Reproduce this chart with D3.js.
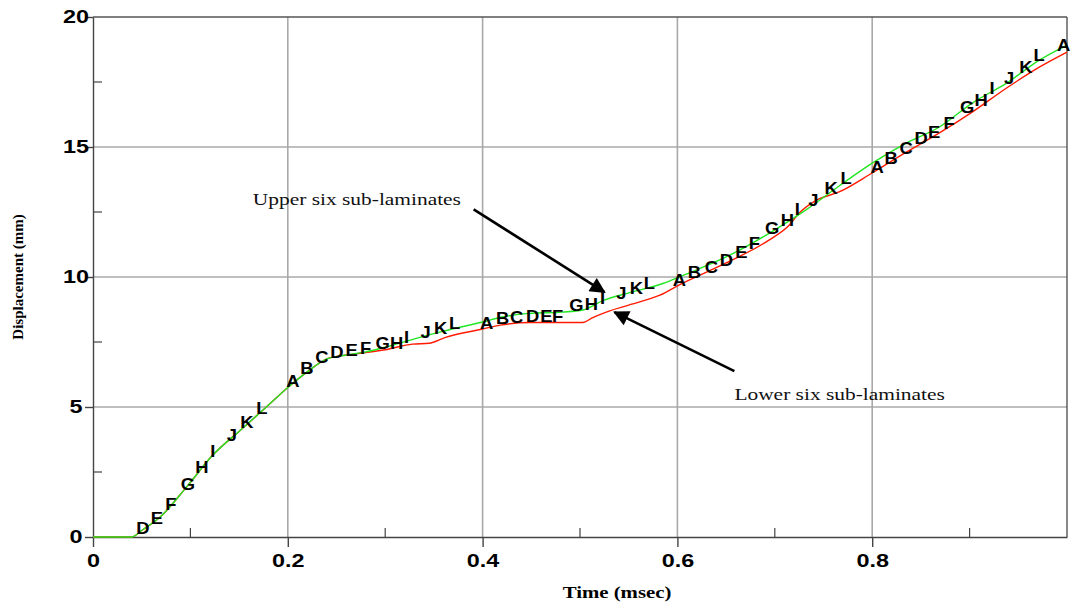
<!DOCTYPE html>
<html><head><meta charset="utf-8">
<script src="https://cdn.jsdelivr.net/npm/d3@7"></script>
<style>body{margin:0;background:#fff}svg{display:block}</style>
</head><body><svg id="c" width="1072" height="604"></svg>
<script>
// ---- data ----
const xTicks = [0, 0.2, 0.4, 0.6, 0.8];
const xMinor = [0.1, 0.3, 0.5, 0.7, 0.9];
const yTicks = [0, 5, 10, 15, 20];
const yMinor = [2.5, 7.5, 12.5, 17.5];

// upper six sub-laminates (green)
const upperT = [0,0.04,0.05,0.069,0.096,0.123,0.151,0.178,0.2,0.22,0.24,0.26,0.28,0.3,0.33,0.36,0.4,0.42,0.448,0.482,0.503,0.524,0.551,0.585,0.605,0.65,0.695,0.732,0.766,0.8,0.835,0.869,0.903,0.938,0.972,1.0];
const upperD = [0,0,0.25,0.77,1.92,3.15,4.1,5.0,5.75,6.35,6.85,7.0,7.12,7.3,7.62,7.92,8.27,8.46,8.6,8.65,8.73,9.1,9.4,9.75,10.05,10.77,11.7,12.58,13.5,14.38,15.15,15.77,16.7,17.46,18.35,18.92];

// lower six sub-laminates (red)
const lowerT = [0,0.04,0.05,0.069,0.096,0.123,0.151,0.178,0.2,0.22,0.24,0.26,0.27,0.3,0.328,0.345,0.362,0.4,0.418,0.449,0.503,0.512,0.527,0.55,0.582,0.602,0.65,0.694,0.715,0.725,0.743,0.766,0.8,0.835,0.869,0.903,0.938,0.972,1.0];
const lowerD = [0,0,0.25,0.77,1.92,3.15,4.1,5.0,5.75,6.35,6.85,7.0,7.05,7.2,7.42,7.45,7.68,8.0,8.15,8.25,8.25,8.42,8.65,8.92,9.3,9.7,10.54,11.42,12.0,12.46,12.96,13.27,14.0,14.8,15.54,16.35,17.27,18.08,18.65];

// sub-laminate letter markers
const markerLetters = ["D","E","F","G","H","I","J","K","L",
  "A","B","C","D","E","F","G","H","I","J","K","L",
  "A","B","C","D","E","F","G","H","I","J","K","L",
  "A","B","C","D","E","F","G","H","I","J","K","L",
  "A","B","C","D","E","F","G","H","I","J","K","L","A"];
const markerT = [0.0513,0.0656,0.080,0.0974,0.1118,0.1231,0.1426,0.158,0.1733,
  0.2051,0.2195,0.2349,0.2503,0.2656,0.28,0.2974,0.3118,0.322,0.3415,0.3569,0.3713,
  0.4041,0.4205,0.4349,0.4513,0.4656,0.4769,0.4964,0.5118,0.5231,0.5426,0.5579,0.5713,
  0.602,0.6174,0.6349,0.6503,0.6656,0.679,0.6974,0.7128,0.7231,0.7395,0.7579,0.7733,
  0.8051,0.8195,0.8349,0.8503,0.8636,0.879,0.8974,0.9118,0.9231,0.9405,0.9579,0.9713,0.9965];
const markerD = [0.35,0.73,1.27,2.04,2.69,3.31,3.92,4.42,4.96,
  6.0,6.5,6.92,7.12,7.19,7.27,7.46,7.46,7.69,7.88,8.04,8.23,
  8.23,8.42,8.46,8.5,8.5,8.5,8.92,8.96,9.19,9.38,9.58,9.77,
  9.88,10.19,10.38,10.65,10.96,11.31,11.88,12.19,12.62,12.96,13.42,13.81,
  14.23,14.58,14.96,15.35,15.58,15.92,16.54,16.81,17.27,17.65,18.08,18.54,18.92];

// annotations
const noteTexts = ["Upper six sub-laminates", "Lower six sub-laminates"];
const noteT = [0.1641, 0.6585];
const noteD = [12.77, 5.27];
const arrowFromT = [0.3908, 0.6585], arrowFromD = [12.6, 6.38];
const arrowToT = [0.5251, 0.5354],   arrowToD = [9.42, 8.65];

// ---- drawing ----
const svg = d3.select("#c");
const x = d3.scaleLinear().domain([0, 1]).range([93, 1067]);
const y = d3.scaleLinear().domain([0, 20]).range([537, 17]);

const SX = 1.3; // horizontal stretch of the original picture's text

// grid
svg.append("g").selectAll("line").data(xTicks.filter(d => d > 0)).join("line")
  .attr("x1", d => x(d)).attr("x2", d => x(d)).attr("y1", y(0)).attr("y2", y(20))
  .attr("stroke", "#a9a9a9").attr("stroke-width", 1.6);
svg.append("g").selectAll("line").data(yTicks.filter(d => d > 0 && d < 20)).join("line")
  .attr("x1", x(0)).attr("x2", x(1)).attr("y1", d => y(d)).attr("y2", d => y(d))
  .attr("stroke", "#a9a9a9").attr("stroke-width", 1.6);

// frame top & right
svg.append("line").attr("x1", x(0)).attr("x2", x(1)).attr("y1", y(20)).attr("y2", y(20))
  .attr("stroke", "#555").attr("stroke-width", 1.4);
svg.append("line").attr("x1", x(1)).attr("x2", x(1)).attr("y1", y(20)).attr("y2", y(0))
  .attr("stroke", "#555").attr("stroke-width", 1.4);

// axes
const xa = svg.append("g").attr("transform", `translate(0,${y(0)})`)
  .call(d3.axisBottom(x).tickValues(xTicks).tickSize(10).tickSizeOuter(0).tickPadding(7)
    .tickFormat(d => d === 0 ? "0" : d3.format(".1f")(d)));
const ya = svg.append("g").attr("transform", `translate(${x(0)},0)`)
  .call(d3.axisLeft(y).tickValues(yTicks).tickSize(8).tickSizeOuter(0).tickFormat(d3.format("d")));
[xa, ya].forEach(g => {
  g.select(".domain").attr("stroke", "#444").attr("stroke-width", 1.4);
  g.selectAll(".tick line").attr("stroke", "#444").attr("stroke-width", 1.4);
  g.selectAll(".tick text").attr("fill", "#000")
    .style("font-family", "'Liberation Sans', Arial, sans-serif")
    .style("font-weight", "bold").style("font-size", "18px");
});
xa.selectAll(".tick text").attr("transform", `scale(${SX},1)`);
ya.selectAll(".tick text").attr("text-anchor", "middle").attr("x", -17 / SX)
  .attr("transform", `scale(${SX},1)`);

// minor ticks
svg.append("g").selectAll("line").data(xMinor).join("line")
  .attr("x1", d => x(d)).attr("x2", d => x(d)).attr("y1", y(0)).attr("y2", y(0) - 9)
  .attr("stroke", "#444").attr("stroke-width", 1.2);
svg.append("g").selectAll("line").data(yMinor).join("line")
  .attr("x1", x(0)).attr("x2", x(0) + 9).attr("y1", d => y(d)).attr("y2", d => y(d))
  .attr("stroke", "#444").attr("stroke-width", 1.2);

// series
const line = d3.line().x(d => x(d[0])).y(d => y(d[1])).curve(d3.curveMonotoneX);
svg.append("path").datum(lowerT.map((t, i) => [t, lowerD[i]]))
  .attr("d", line).attr("fill", "none").attr("stroke", "#ff1a00").attr("stroke-width", 1.4);
svg.append("path").datum(upperT.map((t, i) => [t, upperD[i]]))
  .attr("d", line).attr("fill", "none").attr("stroke", "#22e622").attr("stroke-width", 1.4);

// letter markers
svg.append("g").selectAll("text").data(markerLetters).join("text")
  .attr("transform", (d, i) => `translate(${x(markerT[i])},${y(markerD[i])}) scale(1.15,1)`)
  .attr("text-anchor", "middle").attr("dy", "0.36em")
  .style("font-family", "'Liberation Sans', Arial, sans-serif").style("font-weight", "bold")
  .style("font-size", "16px").attr("fill", "#000").text(d => d);

// annotations
svg.append("defs").append("marker").attr("id", "ah").attr("viewBox", "0 0 10 10")
  .attr("refX", 9).attr("refY", 5).attr("markerWidth", 7).attr("markerHeight", 6)
  .attr("markerUnits", "strokeWidth").attr("orient", "auto")
  .append("path").attr("d", "M0,0 L10,5 L0,10 z").attr("fill", "#000");
svg.append("g").selectAll("line").data(noteTexts).join("line")
  .attr("x1", (d, i) => x(arrowFromT[i])).attr("y1", (d, i) => y(arrowFromD[i]))
  .attr("x2", (d, i) => x(arrowToT[i])).attr("y2", (d, i) => y(arrowToD[i]))
  .attr("stroke", "#000").attr("stroke-width", 2.6).attr("marker-end", "url(#ah)");
svg.append("g").selectAll("text").data(noteTexts).join("text")
  .attr("transform", (d, i) => `translate(${x(noteT[i])},${y(noteD[i])}) scale(1.26,1)`)
  .style("font-family", "'Liberation Serif', 'Times New Roman', serif")
  .style("font-size", "17px").attr("fill", "#111").text(d => d);

// axis titles
svg.append("text").attr("transform", `translate(${x(0.538)},598) scale(${SX},1)`)
  .attr("text-anchor", "middle")
  .style("font-family", "'Liberation Serif', 'Times New Roman', serif").style("font-weight", "bold")
  .style("font-size", "16px").text("Time (msec)");
svg.append("text").attr("transform", `translate(23,${y(10)}) rotate(-90)`)
  .attr("text-anchor", "middle")
  .style("font-family", "'Liberation Serif', 'Times New Roman', serif").style("font-weight", "bold")
  .style("font-size", "15px").text("Displacement (mm)");
</script></body></html>
